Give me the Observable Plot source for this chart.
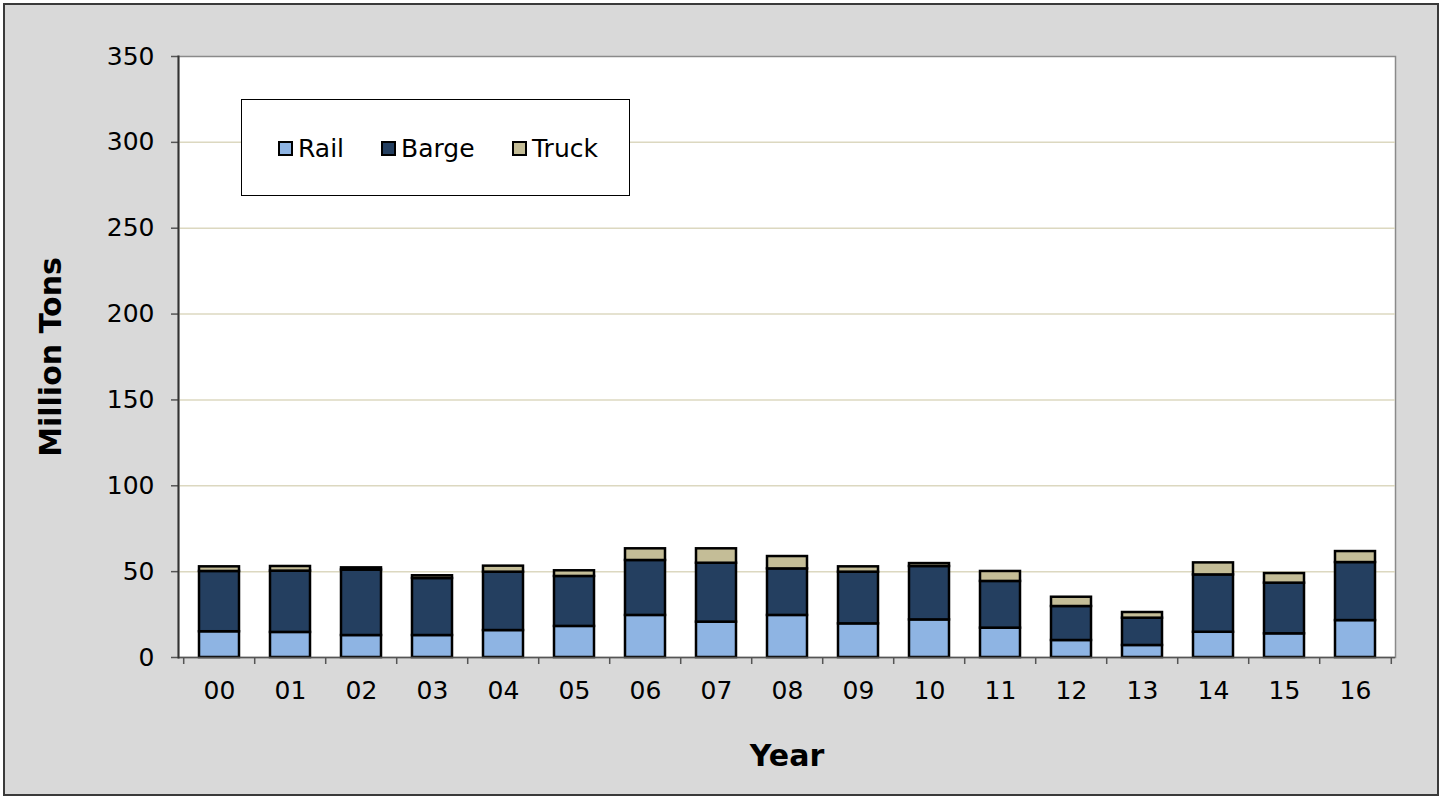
<!DOCTYPE html>
<html>
<head>
<meta charset="utf-8">
<script src="https://cdn.jsdelivr.net/npm/d3@7"></script>
<script src="https://cdn.jsdelivr.net/npm/@observablehq/plot@0.6"></script>
<style>
  html, body { margin: 0; padding: 0; background: #ffffff; }
  #wrap { position: relative; width: 1442px; height: 798px; font-family: "DejaVu Sans", Verdana, sans-serif; }
  #bg { position: absolute; left: 3px; top: 3px; width: 1432px; height: 789px; background: #d9d9d9; border: 2px solid #3a3a3a; }
  #chart { position: absolute; left: 0; top: 0; }
  #legend { position: absolute; left: 241px; top: 99px; width: 387px; height: 95px; background: #fff; border: 1.5px solid #000; }
  .item { position: absolute; top: 34px; display: flex; align-items: center; font-size: 25px; color: #000; }
  .sw { width: 11px; height: 11px; border: 2px solid #000; margin-right: 5px; }
</style>
</head>
<body>
<div id="wrap">
  <div id="bg"></div>
  <div id="chart"></div>
  <div id="legend"></div>
</div>
<script>
const years = ["00","01","02","03","04","05","06","07","08","09","10","11","12","13","14","15","16"];
const rail  = [15.0, 14.6, 12.8, 12.8, 15.7, 18.1, 24.5, 20.6, 24.5, 19.6, 21.9, 17.1, 9.9, 7.0, 14.7, 13.8, 21.5];
const barge = [35.1, 35.7, 38.1, 33.2, 34.0, 29.1, 32.0, 34.3, 27.1, 30.1, 31.1, 27.2, 19.8, 15.9, 33.4, 29.5, 33.8];
const truck = [2.7, 2.7, 1.3, 1.6, 3.5, 3.3, 6.8, 8.4, 7.2, 3.1, 1.7, 5.8, 5.4, 3.3, 7.0, 5.6, 6.4];
const modes = ["Rail", "Barge", "Truck"];
const colors = ["#8eb4e3", "#243f60", "#c4bd97"];
const yTicks = [0, 50, 100, 150, 200, 250, 300, 350];

const series = {Rail: rail, Barge: barge, Truck: truck};
const data = [];
years.forEach((y, i) => modes.forEach(m => data.push({year: y, mode: m, value: series[m][i]})));

const W = 1442, H = 798;
const mL = 178, mR = 47, mT = 56, mB = 141;
const step = (W - mL - mR) / years.length;

const chart = Plot.plot({
  width: W, height: H,
  marginLeft: mL, marginRight: mR, marginTop: mT, marginBottom: mB,
  style: {background: "transparent", fontFamily: "DejaVu Sans, Verdana, sans-serif", fontSize: "25px", color: "#000", overflow: "visible"},
  x: {domain: years, paddingInner: 0.44, paddingOuter: 0.22, label: null},
  y: {domain: [0, 350], label: null},
  color: {domain: modes, range: colors},
  marks: [
    Plot.frame({fill: "white", stroke: "#8a8a8a", strokeWidth: 1.5}),
    Plot.gridY(yTicks.filter(t => t > 0 && t < 350), {stroke: "#dcd8c0", strokeOpacity: 1, strokeWidth: 1.5}),
    Plot.barY(data, {x: "year", y: "value", fill: "mode", z: "mode", order: modes, stroke: "#000", strokeWidth: 2.5}),
    Plot.axisY({ticks: yTicks, tickSize: 7, tickPadding: 17, stroke: "#555", strokeWidth: 1.5, fontSize: 25, label: null}),
    Plot.axisX({tickSize: 0, tickPadding: 24, fontSize: 25, label: null}),
    Plot.axisX({text: null, tickSize: 7, dx: -step / 2, stroke: "#555", strokeWidth: 1.5}),
    Plot.axisX({ticks: [years[years.length - 1]], text: null, tickSize: 7, dx: step / 2, stroke: "#555", strokeWidth: 1.5}),
    Plot.ruleY([0], {stroke: "#555", strokeWidth: 1.5}),
    Plot.frame({anchor: "left", stroke: "#333", strokeWidth: 2}),
    Plot.axisY({ticks: [], label: "Million Tons", labelArrow: "none", labelAnchor: "center", labelOffset: 139, fontSize: 30, fontWeight: "bold"}),
    Plot.axisX({ticks: [], label: "Year", labelArrow: "none", labelAnchor: "center", labelOffset: 108, fontSize: 30, fontWeight: "bold"})
  ]
});
document.getElementById("chart").appendChild(chart);

const legend = document.getElementById("legend");
const lefts = [36, 139, 270];
modes.forEach((m, i) => {
  const it = document.createElement("div");
  it.className = "item";
  it.style.left = lefts[i] + "px";
  const sw = document.createElement("span");
  sw.className = "sw";
  sw.style.background = colors[i];
  const tx = document.createElement("span");
  tx.textContent = m;
  it.appendChild(sw); it.appendChild(tx);
  legend.appendChild(it);
});
</script>
</body>
</html>
